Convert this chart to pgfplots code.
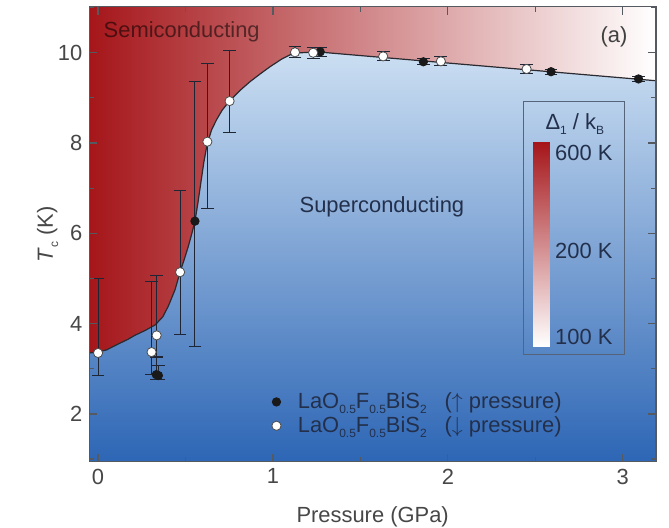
\documentclass[border=0pt]{standalone}
\usepackage{pgfplots}
\pgfplotsset{compat=1.18}
\usepackage{fontspec}
\setmainfont{Liberation Sans}
\definecolor{semired}{HTML}{A5161A}
\definecolor{bluetop}{HTML}{DDECF9}
\definecolor{bluebot}{HTML}{2D66B5}
\definecolor{framegray}{HTML}{555A60}
\definecolor{boxc}{HTML}{56647A}
\definecolor{navy}{HTML}{23304C}
\definecolor{errc}{HTML}{1E2636}
\definecolor{curvec}{HTML}{2A2A30}
\newcommand\sub[1]{\raisebox{-0.45ex}{\fontsize{6}{7}\selectfont #1}}
\begin{document}
\begin{tikzpicture}
\begin{axis}[
  scale only axis, width=283.3bp, height=227.5bp,
  xmin=-0.05, xmax=3.19, ymin=0.94, ymax=11.02,
  xtick={0,1,2,3}, ytick={2,4,6,8,10},
  minor xtick={0.5,1.5,2.5}, minor ytick={1,3,5,7,9,11},
  xtick pos=both, ytick pos=both, xticklabel pos=left, yticklabel pos=left,
  tick align=inside,
  major tick length=4bp, minor tick length=2.5bp,
  axis line style={framegray, line width=0.6bp},
  every tick/.style={framegray, line width=0.6bp},
  tick label style={font=\fontsize{11}{13}\selectfont, text=black!72},
  /pgf/number format/assume math mode=true,
  xlabel={Pressure (GPa)},
  ylabel={\textit{T}\sub{c} (K)},
  label style={font=\fontsize{11}{13}\selectfont, text=black!72},
  xlabel style={yshift=-4.5bp},
  ylabel style={yshift=-7bp},
  axis background/.style={shade, top color=bluetop, bottom color=bluebot},
  axis on top=true,
  legend style={at={(axis cs:0.955,2.66)}, anchor=north west, draw=none, fill=none,
    font=\fontsize{11}{11}\selectfont, text=navy, cells={anchor=west}, row sep=-1.5bp},
  legend image code/.code={\draw[#1] plot coordinates {(0bp,0bp)}; \path (-2.3bp,0bp) (8.5bp,0bp);},
]
% semiconducting region (above the boundary)
\addplot[draw=none, left color=semired, right color=white, forget plot]
coordinates {
(-0.05,3.35) (0,3.37) (0.05,3.42) (0.116,3.55) (0.17,3.65) (0.21,3.74) (0.27,3.85)
(0.326,3.97) (0.37,4.15) (0.402,4.39) (0.44,4.75) (0.469,5.14) (0.495,5.45)
(0.516,5.71) (0.535,5.98) (0.554,6.27) (0.57,6.65) (0.585,7.05) (0.605,7.58)
(0.625,8.0) (0.65,8.3) (0.678,8.52) (0.71,8.73) (0.749,8.92) (0.81,9.16)
(0.869,9.36) (0.93,9.54) (0.983,9.69) (1.05,9.86) (1.116,9.99) (1.25,10.02)
(3.19,9.38) (3.19,11.02) (-0.05,11.02)
} -- cycle;
% boundary line
\addplot[curvec, line width=0.6bp, forget plot]
coordinates {
(-0.05,3.35) (0,3.37) (0.05,3.42) (0.116,3.55) (0.17,3.65) (0.21,3.74) (0.27,3.85)
(0.326,3.97) (0.37,4.15) (0.402,4.39) (0.44,4.75) (0.469,5.14) (0.495,5.45)
(0.516,5.71) (0.535,5.98) (0.554,6.27) (0.57,6.65) (0.585,7.05) (0.605,7.58)
(0.625,8.0) (0.65,8.3) (0.678,8.52) (0.71,8.73) (0.749,8.92) (0.81,9.16)
(0.869,9.36) (0.93,9.54) (0.983,9.69) (1.05,9.86) (1.116,9.99) (1.25,10.02)
(3.19,9.38)
};
% increasing pressure (filled)
\addplot[only marks, mark=*, mark size=2.1bp, mark options={fill=black!90, draw=black!90},
  error bars/.cd, y dir=both, y explicit,
  error bar style={errc, line width=0.5bp},
  error mark options={rotate=90, errc, line width=0.5bp, mark size=3.2bp}]
coordinates {
(0.333,2.87) += (0,0.40) -= (0,0.10)
(0.345,2.85) += (0,0.22) -= (0,0.08)
(0.554,6.27) += (0,3.09) -= (0,2.77)
(1.27,10.02) += (0,0.10) -= (0,0.10)
(1.86,9.80) += (0,0.07) -= (0,0.07)
(2.59,9.58) += (0,0.06) -= (0,0.06)
(3.09,9.42) += (0,0.06) -= (0,0.06)
};
\addlegendentry{LaO\sub{0.5}F\sub{0.5}BiS\sub{2}\hspace{9bp}($\uparrow$ pressure)}
% decreasing pressure (open)
\addplot[only marks, mark=*, mark size=2.3bp, mark options={fill=white, draw=black!70, line width=0.4bp},
  error bars/.cd, y dir=both, y explicit,
  error bar style={errc, line width=0.5bp},
  error mark options={rotate=90, errc, line width=0.5bp, mark size=3.2bp}]
coordinates {
(0.0,3.35) += (0,1.64) -= (0,0.51)
(0.306,3.37) += (0,1.57) -= (0,0.50)
(0.335,3.74) += (0,1.32) -= (0,0.50)
(0.469,5.14) += (0,1.81) -= (0,1.38)
(0.625,8.03) += (0,1.74) -= (0,1.47)
(0.752,8.93) += (0,1.11) -= (0,0.70)
(1.126,10.01) += (0,0.12) -= (0,0.12)
(1.23,10.00) += (0,0.12) -= (0,0.12)
(1.63,9.92) += (0,0.10) -= (0,0.10)
(1.96,9.81) += (0,0.10) -= (0,0.10)
(2.45,9.64) += (0,0.10) -= (0,0.10)
};
\addlegendentry{LaO\sub{0.5}F\sub{0.5}BiS\sub{2}\hspace{9bp}($\downarrow$ pressure)}
% colour scale box
\draw[color=boxc, line width=0.6bp] (axis cs:2.434,3.31) rectangle (axis cs:3.011,8.92);
\shade[top color=semired, middle color=semired!45!white, bottom color=white] (axis cs:2.488,3.5) rectangle (axis cs:2.583,8.01);
\node[font=\fontsize{11}{13}\selectfont, text=navy] at (axis cs:2.726,8.42) {Δ\sub{1} / k\sub{B}};
\node[font=\fontsize{11}{13}\selectfont, text=navy, anchor=west, inner sep=0pt] at (axis cs:2.611,7.79) {600 K};
\node[font=\fontsize{11}{13}\selectfont, text=navy, anchor=west, inner sep=0pt] at (axis cs:2.611,5.6) {200 K};
\node[font=\fontsize{11}{13}\selectfont, text=navy, anchor=west, inner sep=0pt] at (axis cs:2.611,3.71) {100 K};
% region labels
\node[font=\fontsize{11}{13}\selectfont, text=black, text opacity=0.55, anchor=west, inner sep=0pt] at (axis cs:0.03,10.46) {Semiconducting};
\node[font=\fontsize{11}{13}\selectfont, text=navy] at (axis cs:1.623,6.59) {Superconducting};
\node[font=\fontsize{11}{13}\selectfont, text=black!75] at (axis cs:2.95,10.35) {(a)};
\end{axis}
\pgfresetboundingbox
\path ([shift={(-44.65bp,-32.65bp)}]current axis.south west) rectangle ([shift={(6.5bp,3.35bp)}]current axis.north east);
\end{tikzpicture}
\end{document}
